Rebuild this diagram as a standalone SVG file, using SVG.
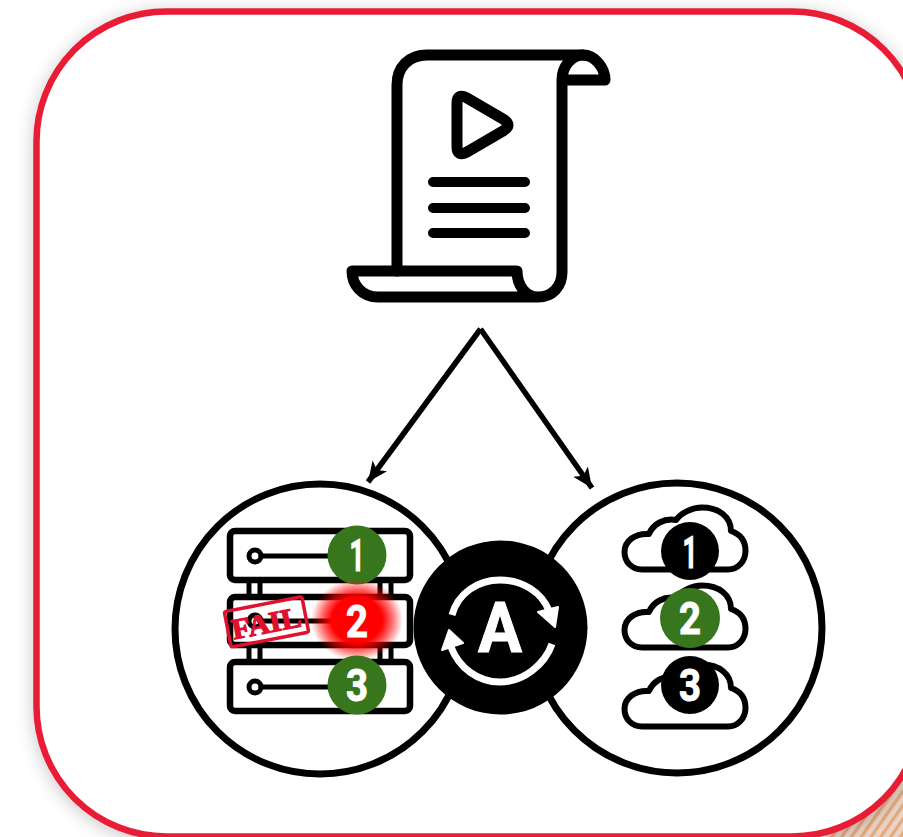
<svg xmlns="http://www.w3.org/2000/svg" width="903" height="837" viewBox="0 0 903 837">
<style>
.ic{fill:none;stroke:#000;stroke-linecap:round;stroke-linejoin:round}
.bar{fill:#fff;stroke:#000;stroke-width:6.500}
.ring{fill:#fff;stroke:#000;stroke-width:7}
.num{font-family:Roboto,"Liberation Sans",sans-serif;font-weight:700;font-size:44px;fill:#fff;stroke:#fff;stroke-width:1;text-anchor:middle}
.conn{fill:none;stroke:#000;stroke-width:5.500;marker-end:url(#ah)}
.g{fill:#38761d}
</style>
<defs>
<marker id="ah" markerUnits="userSpaceOnUse" markerWidth="24" markerHeight="24" refX="20" refY="10" orient="auto"><path d="M0,1 L20,10 L0,19 L5,10 Z" fill="#000"/></marker>
<filter id="sh" x="-10%" y="-10%" width="120%" height="120%"><feDropShadow dx="0" dy="3" stdDeviation="9" flood-color="#000" flood-opacity=".22"/></filter>
<radialGradient id="glow"><stop offset="0" stop-color="#f00"/><stop offset=".55" stop-color="#f00"/><stop offset=".75" stop-color="#f00" stop-opacity=".6"/><stop offset="1" stop-color="#f00" stop-opacity="0"/></radialGradient>
<pattern id="st" width="8" height="8" patternUnits="userSpaceOnUse" patternTransform="rotate(-55)"><rect width="8" height="8" fill="#efcfb4"/><rect width="8" height="3" fill="#e3a97f"/><rect y="5" width="8" height="1.500" fill="#e2dadd"/></pattern>
<path id="cloud" d="M642,569.500H728C738,569.500 745.500,561 745.500,551C745.500,541 740,534 731,531C731,517 719,507.500 702,507.500C692,507.500 681,513 676,520C664,518 653,524 649,534C635,533 624.500,541 624.500,552C624.500,562 632,569.500 642,569.500Z"/>
</defs>
<path id="corner" d="M825,837L903,755V837Z" fill="url(#st)"/>
<rect id="frame" x="36.500" y="11.500" width="885.500" height="825" rx="130" ry="130" fill="#fff" stroke="#e91c36" stroke-width="6.500" filter="url(#sh)"/>
<g id="document">
<path class="ic" stroke-width="11" d="M397,271V85C397,67 409,55 427,55H583C595,55 605,68 605,80H563"/>
<path class="ic" stroke-width="11" d="M583,55C571,55 562,67 562,80V272C562,287 552,297 538,297C526,297 517,286 517,271H352C352,285 362,297 378,297H538"/>
<path class="ic" stroke-width="11" d="M457,103Q457,93 467,98L503,119Q513,125 503,131L467,152Q457,157 457,147Z"/>
<path class="ic" stroke-width="10" d="M433,182H525M433,208H525M433,233H525"/>
</g>
<g id="connectors">
<path class="conn" d="M480.500,329L368,482"/>
<path class="conn" d="M480.500,329L592,488"/>
</g>
<g id="servers">
<circle class="ring" cx="320" cy="629" r="145"/>
<path d="M249,580V662M260,580V662M380,580V662M391,580V662" stroke="#000" stroke-width="5" fill="none"/>
<rect class="bar" x="230" y="531" width="180" height="49" rx="5"/>
<rect class="bar" x="230" y="597" width="180" height="48" rx="5"/>
<rect class="bar" x="230" y="662" width="180" height="49" rx="5"/>
<path class="ic" stroke-width="5" d="M261,556H330M261,621H330M261,687H330"/>
<circle class="ic" stroke-width="5" cx="255" cy="556" r="6"/>
<circle class="ic" stroke-width="5" cx="255" cy="621" r="6"/>
<circle class="ic" stroke-width="5" cx="255" cy="687" r="6"/>
<path d="M391,543v.1M391,556v.1M391,568v.1M391,608v.1M391,621v.1M391,633v.1M391,673v.1M391,687v.1M391,699v.1" stroke="#000" stroke-width="6" fill="none"/>
</g>
<g id="fail-stamp" transform="rotate(-11 266 622)">
<rect x="227" y="604" width="79" height="36" fill="none" stroke="#e0102f" stroke-width="3.500" rx="2"/>
<text x="266" y="633" font-family="'Liberation Serif',serif" font-weight="700" font-size="29" fill="#e0102f" stroke="#e0102f" stroke-width="1.200" text-anchor="middle" textLength="70" lengthAdjust="spacingAndGlyphs">FAIL</text>
</g>
<g id="server-1"><circle class="g" cx="357" cy="555" r="29.500"/><text class="num" x="357" y="571" textLength="15" lengthAdjust="spacingAndGlyphs">1</text></g>
<g id="server-2"><ellipse cx="357" cy="620" rx="46" ry="41" fill="url(#glow)"/><text class="num" x="357" y="637" textLength="22" lengthAdjust="spacingAndGlyphs">2</text></g>
<g id="server-3"><circle class="g" cx="357" cy="685" r="29.500"/><text class="num" x="357" y="701" textLength="22" lengthAdjust="spacingAndGlyphs">3</text></g>
<g id="clouds">
<circle class="ring" cx="677" cy="628" r="145"/>
<use href="#cloud" class="ic" stroke-width="6"/>
<use href="#cloud" class="ic" stroke-width="6" y="78"/>
<use href="#cloud" class="ic" stroke-width="6" y="157"/>
</g>
<g id="cloud-1"><circle cx="690" cy="551" r="29"/><text class="num" x="690" y="568" textLength="15" lengthAdjust="spacingAndGlyphs">1</text></g>
<g id="cloud-2"><circle class="g" cx="690" cy="618" r="30"/><text class="num" x="690" y="634" textLength="22" lengthAdjust="spacingAndGlyphs">2</text></g>
<g id="cloud-3"><circle cx="690" cy="685" r="29"/><text class="num" x="690" y="701" textLength="22" lengthAdjust="spacingAndGlyphs">3</text></g>
<g id="hub">
<circle cx="500.500" cy="627.500" r="87"/>
<path d="M452,615C458,593 478,580 500,580C522,580 542,592 549,611M552,644C545,664 524,682 500,682C478,682 459,668 451,647" fill="none" stroke="#fff" stroke-width="7"/>
<path d="M558,607L555,627L538,612Z M449,630L463,643L442,650Z" fill="#fff" stroke="#fff" stroke-width="2" stroke-linejoin="round"/>
<text x="500" y="652" font-family="Roboto,'Liberation Sans',sans-serif" font-weight="700" font-size="70" fill="#fff" stroke="#fff" stroke-width="1" text-anchor="middle" textLength="44" lengthAdjust="spacingAndGlyphs">A</text>
</g>
</svg>
